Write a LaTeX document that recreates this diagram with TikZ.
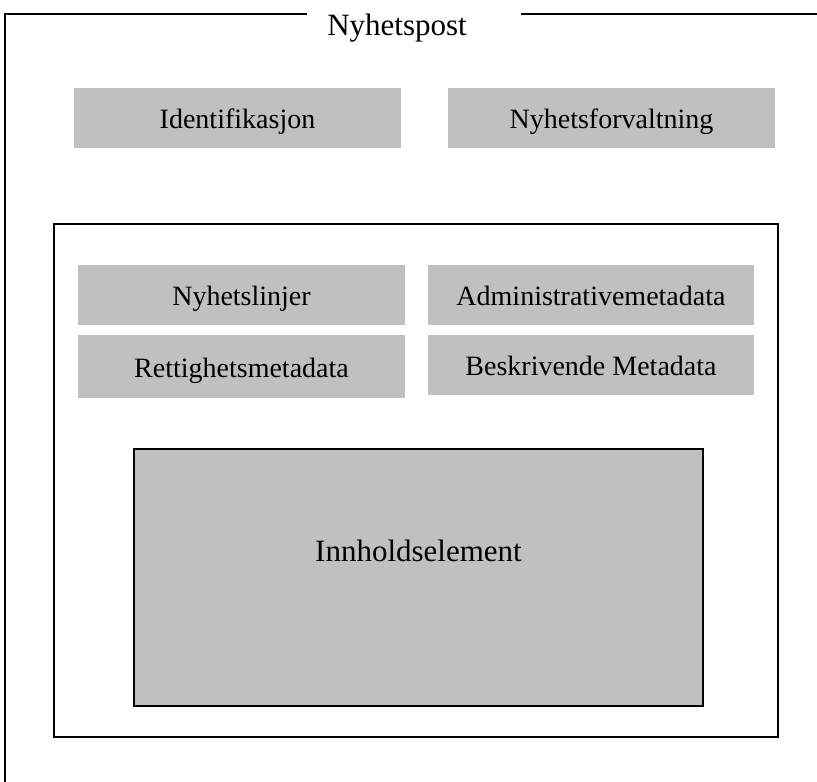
\documentclass[tikz,border=0pt]{standalone}
\usepackage{fontspec}
\setmainfont{Liberation Serif}
\definecolor{panelgray}{HTML}{C0C0C0}
\begin{document}
\begin{tikzpicture}[x=1bp,y=-1bp,
  panel/.style={fill=panelgray,draw=none,inner sep=0pt,
    text height=21bp,text depth=0pt,
    font=\fontsize{28bp}{30bp}\selectfont},
  frame/.style={draw=black,line width=2bp},
  label/.style={inner sep=0pt,font=\fontsize{31bp}{33bp}\selectfont}]
\useasboundingbox (0,0) rectangle (817,782);

% outer record frame: open at the right and bottom, gap for the title
\coordinate (tl) at (5,14);
\coordinate (bl) at (5,782);
\coordinate (gapL) at (307,14);
\coordinate (gapR) at (521,14);
\coordinate (tr) at (817,14);
\draw[frame] (bl) -- (tl) -- (gapL);
\draw[frame] (gapR) -- (tr);
\node[label,anchor=base] (title) at (397,36) {Nyhetspost};

% top-level panels
\node[panel,minimum width=327bp,minimum height=60bp] (ident) at (237.5,118) {Identifikasjon};
\node[panel,minimum width=327bp,minimum height=60bp] (forv) at (611.5,118) {Nyhetsforvaltning};

% inner container
\node[frame,fill=white,inner sep=0pt,minimum width=723.5bp,minimum height=513bp] (inner) at (416.25,480.5) {};

% metadata panels
\node[panel,minimum width=327bp,minimum height=60bp] (linjer) at (241.5,295) {Nyhetslinjer};
\node[panel,minimum width=326bp,minimum height=60bp] (admin) at (591,295) {Administrativemetadata};
\node[panel,minimum width=327bp,minimum height=63bp] (rett) at (241.5,366.5) {Rettighetsmetadata};
\node[panel,minimum width=326bp,minimum height=60bp] (beskr) at (591,365) {Beskrivende Metadata};

% content element
\node[frame,fill=panelgray,inner sep=0pt,minimum width=569bp,minimum height=257bp] (innhold) at (418.5,577.5) {};
\node[label] (innholdtxt) at (418.5,551) {Innholdselement};
\end{tikzpicture}
\end{document}
